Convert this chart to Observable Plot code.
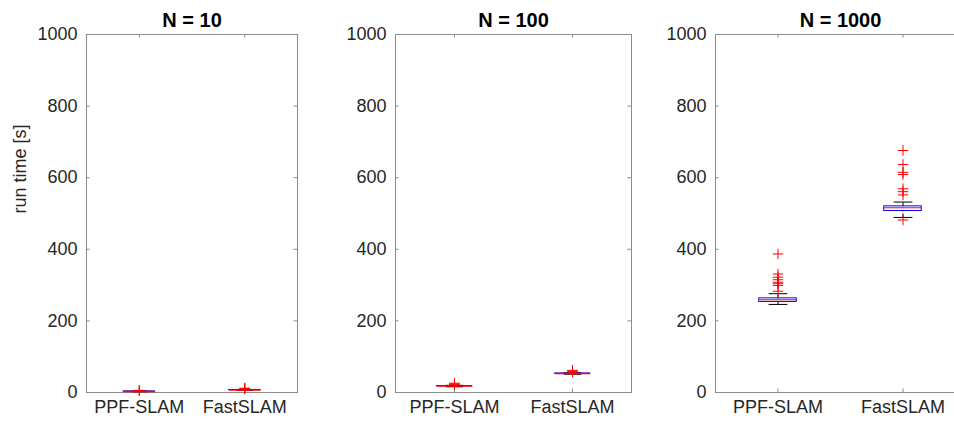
<!DOCTYPE html>
<html>
<head>
<meta charset="utf-8">
<script src="https://cdn.jsdelivr.net/npm/d3@7"></script>
<script src="https://cdn.jsdelivr.net/npm/@observablehq/plot@0.6"></script>
<style>
  html, body { margin: 0; padding: 0; background: #fff; }
  #chart { position: relative; width: 954px; height: 425px; overflow: hidden; }
  #chart svg { position: absolute; top: 0; overflow: visible; }
</style>
</head>
<body>
<div id="chart"></div>
<script>
// ---- data ----
const panelTitles = ["N = 10", "N = 100", "N = 1000"];
const methods = ["PPF-SLAM", "FastSLAM"];
const yTicks = [0, 200, 400, 600, 800, 1000];
// per panel: [PPF-SLAM, FastSLAM]
const whiskerLow  = [[2, 6],      [16, 51],      [246, 489]];
const quart1      = [[2.9, 6.9],  [17.8, 52.8],  [253, 507]];
const medians     = [[3, 7],      [18, 53],      [259, 516]];
const quart3      = [[3.1, 7.1],  [18.2, 53.2],  [263, 520]];
const whiskerHigh = [[4, 8.5],    [20, 55],      [276, 532]];
const outliers = [
  [[5, 6], [10, 11, 12]],
  [[22, 24, 26], [57, 58, 60, 62]],
  [[283, 299, 304, 308, 315, 322, 331, 387], [482, 552, 561, 569, 609, 615, 637, 676]]
];

// ---- layout ----
const H = 425, MT = 34, MB = 33, MR = 10;
const layout = [
  {left: 86, width: 211, ml: 86},
  {left: 395, width: 236, ml: 60},
  {left: 715, width: 250, ml: 60}
];
const axisColor = "#8c8c8c";
const textColor = "#262626";
const tickLen = 3.6;
const boxHalf = 0.15, capHalf = 0.075;

function panel(p) {
  const {width: W, ml} = layout[p];
  const innerH = H - MT - MB;
  const rows = methods.map((m, j) => ({
    x: j + 1, lo: whiskerLow[p][j], q1: quart1[p][j], med: medians[p][j],
    q3: quart3[p][j], hi: whiskerHigh[p][j]
  }));
  const outs = outliers[p].flatMap((arr, j) => arr.map(v => ({x: j + 1, v})));
  const marks = [
    Plot.frame({stroke: axisColor}),
    Plot.tickY(yTicks, {y: d => d, stroke: axisColor, insetRight: W - tickLen}),
    Plot.tickY(yTicks, {y: d => d, stroke: axisColor, insetLeft: W - tickLen}),
    Plot.tickX([1, 2], {x: d => d, stroke: axisColor, insetTop: innerH - tickLen}),
    Plot.tickX([1, 2], {x: d => d, stroke: axisColor, insetBottom: innerH - tickLen}),
    Plot.axisY({ticks: yTicks, tickSize: 0, tickPadding: 9, label: null, fill: textColor,
                tickFormat: d => String(d)}),
    Plot.axisX({ticks: [1, 2], tickSize: 0, tickPadding: 8, label: null, fill: textColor,
                tickFormat: d => methods[d - 1]}),
    // whiskers
    Plot.link(rows, {x1: "x", x2: "x", y1: "lo", y2: "q1", stroke: "#000", strokeDasharray: "4,2"}),
    Plot.link(rows, {x1: "x", x2: "x", y1: "q3", y2: "hi", stroke: "#000", strokeDasharray: "4,2"}),
    Plot.link(rows, {x1: d => d.x - capHalf, x2: d => d.x + capHalf, y1: "lo", y2: "lo", stroke: "#000"}),
    Plot.link(rows, {x1: d => d.x - capHalf, x2: d => d.x + capHalf, y1: "hi", y2: "hi", stroke: "#000"}),
    // boxes
    Plot.rect(rows, {x1: d => d.x - boxHalf, x2: d => d.x + boxHalf, y1: "q1", y2: "q3",
                     stroke: "#0000ff", fill: "none"}),
    Plot.link(rows, {x1: d => d.x - boxHalf, x2: d => d.x + boxHalf, y1: "med", y2: "med",
                     stroke: "#ff0000", strokeWidth: p < 2 ? 1.6 : 1}),
    // outliers
    Plot.dot(outs, {x: "x", y: "v", symbol: "plus", stroke: "#ff0000", r: 3.5, strokeWidth: 1}),
    // title
    Plot.text([panelTitles[p]], {frameAnchor: "top", dy: -8, lineAnchor: "bottom", text: d => d,
                fontWeight: "bold", fontSize: 20, fill: "#000"})
  ];
  if (p === 0) {
    marks.push(Plot.text(["run time [s]"], {frameAnchor: "left", dx: -66, rotate: -90, text: d => d,
                fontSize: 18, fill: textColor}));
  }
  const svg = Plot.plot({
    width: ml + W + MR, height: H,
    marginLeft: ml, marginRight: MR, marginTop: MT, marginBottom: MB,
    x: {domain: [0.5, 2.5]},
    y: {domain: [0, 1000]},
    style: {fontFamily: "'Liberation Sans', Arial, Helvetica, sans-serif", fontSize: "18px",
            color: textColor, background: "transparent", overflow: "visible"},
    marks
  });
  svg.style.left = (layout[p].left - ml) + "px";
  return svg;
}

const chart = document.getElementById("chart");
for (let p = 0; p < 3; p++) chart.appendChild(panel(p));
</script>
</body>
</html>
